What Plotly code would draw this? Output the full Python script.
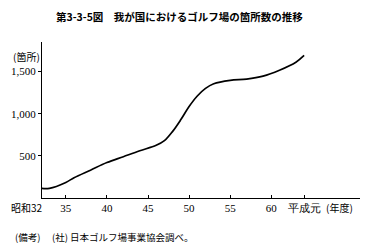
import plotly.graph_objects as go

years = [1957, 1958, 1960, 1961, 1963, 1965, 1967, 1969, 1971, 1972, 1973,
         1974, 1975, 1976, 1977, 1978, 1980, 1982, 1984, 1986, 1988, 1989]
counts = [115, 115, 185, 240, 330, 420, 490, 560, 625, 680, 790,
          930, 1085, 1210, 1300, 1355, 1395, 1410, 1445, 1515, 1610, 1690]

x_tickvals = [1960, 1965, 1970, 1975, 1980, 1985, 1989]
x_ticktext = ["35", "40", "45", "50", "55", "60", "平成元"]
y_tickvals = [500, 1000, 1500]
y_ticktext = ["500", "1,000", "1,500"]

title = "第3-3-5図　我が国におけるゴルフ場の箇所数の推移"
y_unit = "(箇所)"
x_first = "昭和32"
x_unit = "(年度)"
note = "(備考)　 (社) 日本ゴルフ場事業協会調べ。"

SERIF = "'Liberation Serif', 'DejaVu Serif', serif"
CJK = "'Noto Sans CJK JP', sans-serif"

fig = go.Figure()
fig.add_trace(go.Scatter(
    x=years, y=counts, mode="lines",
    line=dict(color="black", width=1.7, shape="spline", smoothing=1.0),
    hoverinfo="skip", showlegend=False,
))

fig.update_layout(
    width=371, height=251,
    margin=dict(l=36, r=11, t=42, b=53),
    paper_bgcolor="white", plot_bgcolor="white",
    font=dict(family=SERIF, size=11, color="black"),
    xaxis=dict(
        range=[1957.1, 1995.8], showgrid=False, zeroline=False,
        showline=True, linecolor="black", linewidth=1,
        tickvals=x_tickvals, ticktext=x_ticktext,
        ticks="inside", ticklen=3, tickcolor="black",
        tickfont=dict(family=SERIF, size=11),
    ),
    yaxis=dict(
        range=[0, 1850], showgrid=False, zeroline=False,
        showline=True, linecolor="black", linewidth=1,
        tickvals=y_tickvals, ticktext=y_ticktext,
        ticks="outside", ticklen=3, tickcolor="black",
        tickfont=dict(family=SERIF, size=11),
    ),
    annotations=[
        dict(text="<b>" + title + "</b>", x=48, y=17,
             showarrow=False, xanchor="left", yanchor="middle",
             font=dict(family=CJK, size=10.5)),
        dict(text=y_unit, x=20, y=56, showarrow=False, xanchor="center", yanchor="middle",
             font=dict(family=CJK, size=10)),
        dict(text=x_first, x=21, y=207, showarrow=False, xanchor="center", yanchor="middle",
             font=dict(family=CJK, size=10)),
        dict(text=x_unit, x=339, y=207, showarrow=False, xanchor="center", yanchor="middle",
             font=dict(family=CJK, size=10)),
        dict(text=note, x=6, y=237, showarrow=False, xanchor="left", yanchor="middle",
             font=dict(family=CJK, size=9.5)),
    ],
)

# convert pixel-based annotation positions to paper coords
W, H = 371, 251
l, r, t, b = 36, 11, 42, 53
pw, ph = W - l - r, H - t - b
anns = []
for a in fig.layout.annotations:
    a = a.to_plotly_json()
    px, py = a["x"], a["y"]
    a["xref"] = "paper"; a["yref"] = "paper"
    a["x"] = (px - l) / pw
    a["y"] = (H - b - py) / ph
    anns.append(a)
fig.layout.annotations = anns

fig.write_html("out.html")
